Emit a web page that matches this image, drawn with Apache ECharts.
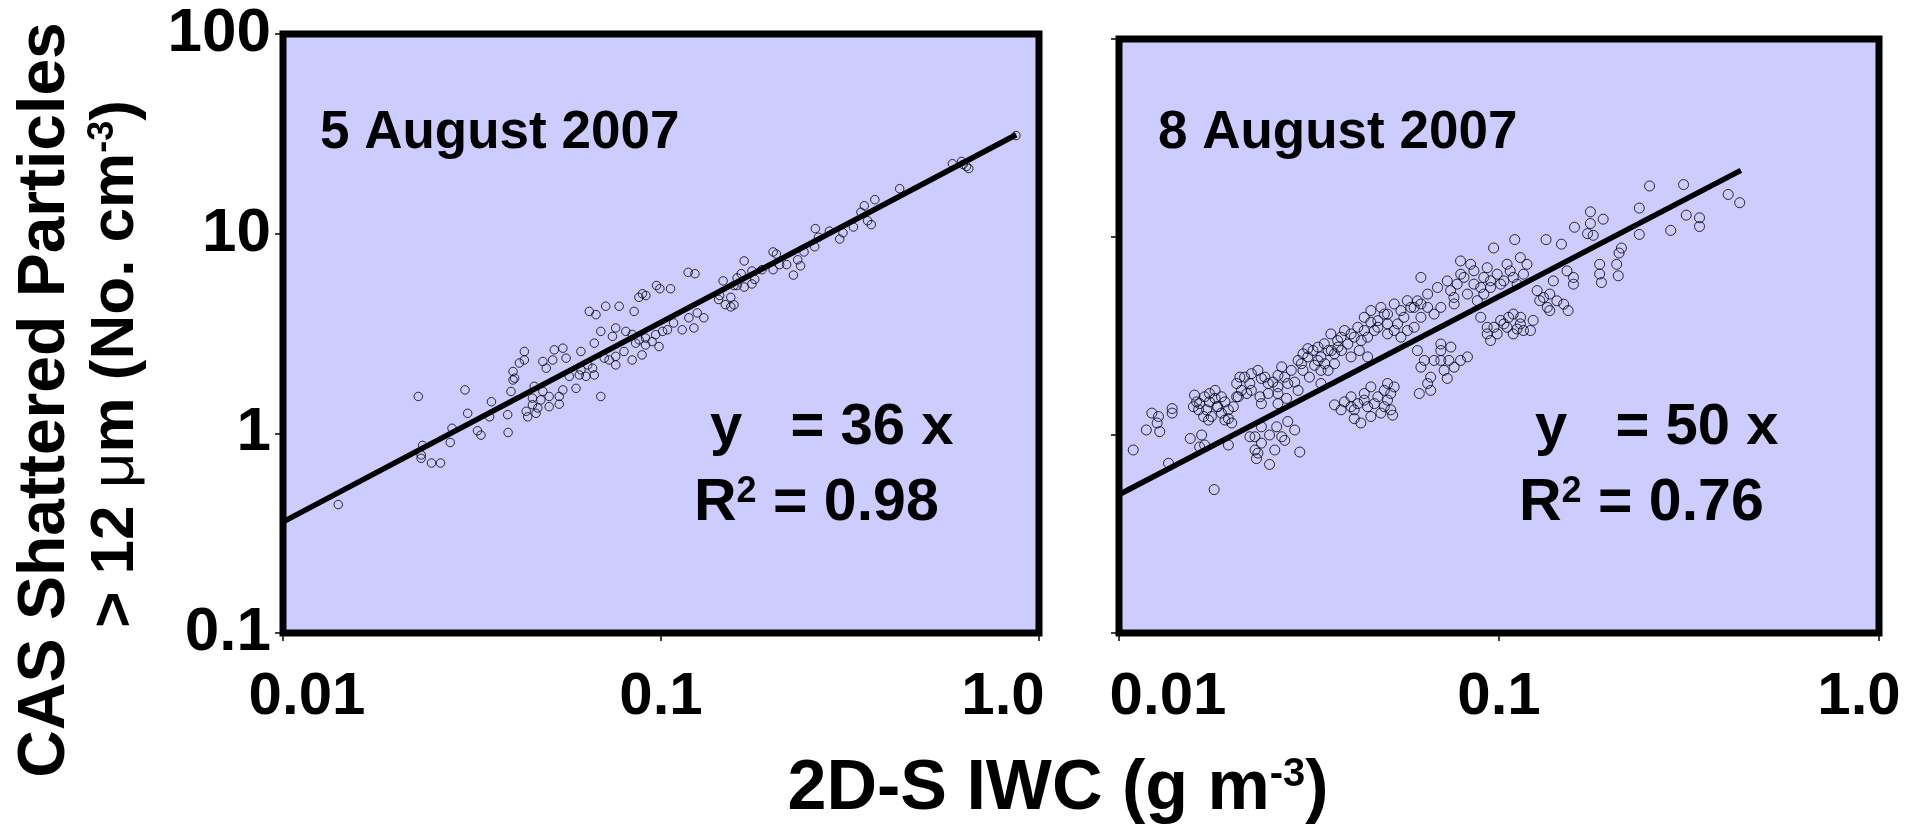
<!DOCTYPE html>
<html><head><meta charset="utf-8">
<script src="https://cdn.jsdelivr.net/npm/echarts@6/dist/echarts.min.js"></script>
<style>html,body{margin:0;padding:0;background:#ffffff;} #c{width:1917px;height:829px;}</style>
</head><body><div id="c"></div>
<script>
// ---------- data ----------
const xTickLabels = ['0.01', '0.1', '1.0'];          // for 0.01, 0.1, 1
const yTickLabels = ['0.1', '1', '10', '100'];       // for 0.1, 1, 10, 100
const panelTitles = ['5 August 2007', '8 August 2007'];
const fitText1 = ['y   = 36 x', '0.98'];
const fitText2 = ['y   = 50 x', '0.76'];

const aug5Points = [
[0.0140,0.44],[0.0228,1.53],[0.0234,0.87],[0.0232,0.78],[0.0232,0.75],[0.0247,0.71],[0.0261,0.71],
[0.0277,0.90],[0.0280,1.06],[0.0303,1.65],[0.0308,1.26],[0.0327,1.03],[0.0334,0.98],[0.0356,1.44],
[0.0352,1.21],[0.0394,1.01],[0.0393,1.24],[0.0401,1.62],[0.0406,2.04],[0.0410,1.89],[0.0406,1.85],
[0.0422,2.25],[0.0435,2.33],[0.0435,2.57],[0.0440,1.29],[0.0444,1.21],[0.0457,1.39],[0.0472,1.34],
[0.0467,1.26],[0.0462,1.72],[0.0487,1.62],[0.0457,1.50],[0.0481,1.47],[0.0506,1.36],[0.0487,2.29],
[0.0497,2.12],[0.0517,2.33],[0.0522,2.62],[0.0550,2.67],[0.0561,2.38],[0.0538,1.53],[0.0550,1.65],
[0.0538,1.40],[0.0506,1.53],[0.0596,1.68],[0.0614,2.57],[0.0693,1.53],[0.0572,1.93],[0.0608,1.96],
[0.0633,1.93],[0.0659,2.12],[0.0666,1.96],[0.0666,2.83],[0.0646,4.08],[0.0673,3.93],[0.0714,4.33],
[0.0775,4.33],[0.0849,4.08],[0.0693,3.24],[0.0744,3.06],[0.0759,3.37],[0.0807,3.24],[0.0729,2.33],
[0.0759,2.20],[0.0839,2.33],[0.0891,2.47],[0.0910,2.77],[0.0947,2.88],[0.0988,2.72],[0.0839,3.13],
[0.0875,2.94],[0.104,3.30],[0.1138,3.30],[0.1222,3.37],[0.1298,3.79],[0.1247,4.01],[0.142,4.68],
[0.148,4.41],[0.0614,2.08],[0.064,2.20],[0.0708,2.38],[0.0759,2.43],[0.0798,2.57],[0.0857,2.83],
[0.091,3.0],[0.0968,3.12],[0.101,3.24],[0.108,3.57],[0.1185,3.79],
[0.869,31.0],[0.59,22.4],[0.624,23.0],[0.643,21.7],[0.652,21.2],[0.63,22.2],[0.428,16.8],
[0.368,14.8],[0.345,13.8],[0.338,12.8],[0.36,11.1],[0.323,10.8],[0.352,11.6],[0.303,10.1],
[0.279,10.3],[0.261,9.6],[0.256,10.6],[0.297,9.4],[0.255,8.6],[0.239,8.1],[0.230,7.4],[0.234,6.9],
[0.224,6.2],[0.215,7.0],[0.206,7.0],[0.198,6.6],[0.198,8.1],[0.202,7.9],[0.166,7.3],[0.174,6.5],
[0.177,5.9],[0.185,6.6],[0.174,5.6],[0.166,5.4],[0.159,5.5],[0.146,5.8],[0.156,5.5],[0.159,6.0],
[0.153,4.8],[0.143,4.9],[0.163,6.3],[0.156,4.4],[0.153,4.3],[0.118,6.4],[0.123,6.3],[0.0973,5.5],
[0.0993,5.3],[0.106,5.3],[0.0893,5.0],[0.0874,4.8],[0.0912,4.9]
];
const aug5Fit = [[0.01,0.36],[0.87,31.3]];

const aug8Points = [
[0.0109,0.84],[0.0118,1.06],[0.0122,1.29],[0.0127,1.24],[0.0128,1.04],[0.0126,1.15],[0.0138,1.29],
[0.0138,1.36],[0.0135,0.72],[0.0154,0.96],[0.0165,1.0],[0.0163,0.87],[0.0168,0.89],[0.0178,0.53],
[0.0158,1.59],[0.0163,1.44],[0.0168,1.56],[0.0173,1.62],[0.0179,1.53],[0.0182,1.39],[0.0186,1.29],
[0.017,1.34],[0.0175,1.24],[0.0162,1.34],[0.019,1.47],[0.0194,1.34],[0.0179,1.68],[0.0186,1.56],
[0.0172,1.19],[0.0194,1.21],[0.0198,1.15],[0.0194,0.89],[0.0228,0.98],[0.0228,0.84],[0.023,0.76],
[0.0249,0.71],[0.0232,0.81],[0.0249,1.0],[0.0268,0.98],[0.0278,1.17],[0.026,1.10],[0.0237,1.10],
[0.0299,0.82],[0.0204,1.82],[0.0208,1.96],[0.0223,2.04],[0.0237,1.93],[0.0247,1.82],[0.0262,2.0],
[0.0268,2.21],[0.0278,1.82],[0.029,1.85],[0.0223,1.68],[0.0235,1.56],[0.0262,1.62],[0.0247,1.62],
[0.021,1.68],[0.0296,2.38],[0.0305,2.57],[0.0314,2.48],[0.0327,2.25],[0.034,2.48],[0.0324,2.67],
[0.0305,2.12],[0.034,2.12],[0.0355,2.67],[0.0348,2.29],[0.0317,1.96],[0.034,1.82],[0.0361,3.24],
[0.0376,3.0],[0.0385,2.67],[0.04,2.88],[0.0416,3.12],[0.0429,2.67],[0.0408,2.48],[0.0451,2.48],
[0.0442,3.37],[0.0369,2.57],[0.0392,3.37],[0.0369,1.42],[0.0392,1.47],[0.0408,1.56],[0.0425,1.44],
[0.0442,1.62],[0.046,1.75],[0.048,1.56],[0.0499,1.68],[0.0509,1.5],[0.0519,1.34],[0.0525,1.26],
[0.0489,1.29],[0.0451,1.39],[0.0416,1.21],[0.0433,1.15],[0.0509,1.82],[0.053,1.75],[0.0442,3.93],
[0.046,4.25],[0.048,3.78],[0.0499,4.08],[0.0509,3.64],[0.053,3.37],[0.0562,3.93],[0.0586,4.41],
[0.061,4.76],[0.0623,3.93],[0.047,3.37],[0.0552,3.12],[0.0598,3.5],[0.061,2.67],[0.0636,2.38],
[0.0661,1.96],[0.0703,2.88],[0.0747,2.78],[0.0703,2.38],[0.0717,2.12],[0.0731,1.93],[0.0792,2.38],
[0.0826,2.48],[0.0617,1.62],[0.0649,1.82],[0.0649,5.15],[0.0689,5.56],[0.0731,6.0],[0.0776,5.78],
[0.0761,4.95],[0.0809,6.25],[0.0859,5.78],[0.0912,6.25],[0.0931,7.0],[0.0989,6.49],[0.103,6.0],
[0.107,6.74],[0.1116,5.78],[0.1138,7.87],[0.1185,7.28],[0.0792,7.57],[0.0842,7.28],[0.0912,5.15],
[0.095,5.56],[0.0703,4.41],[0.0623,6.25],[0.126,5.36],[0.131,4.95],[0.136,5.15],[0.142,4.76],
[0.148,4.58],[0.152,4.25],[0.136,4.25],[0.123,3.79],[0.1138,3.64],[0.121,3.37],[0.103,3.64],
[0.095,3.0],[0.0931,3.24],[0.109,4.08],[0.157,5.78],[0.139,6.0],[0.151,6.74],[0.157,6.25],
[0.097,3.5],[0.101,3.79],[0.106,3.93],[0.1116,3.43],[0.116,3.37],[0.184,7.28],[0.186,5.89],
[0.184,6.5],[0.204,7.28],[0.206,6.37],[0.249,18.1],[0.306,18.4],[0.401,16.4],[0.43,14.9],
[0.234,14.0],[0.283,10.8],[0.311,12.9],[0.337,12.5],[0.337,11.3],[0.234,10.3],[0.174,13.4],
[0.188,12.3],[0.158,11.2],[0.171,10.4],[0.207,8.3],[0.21,8.8],[0.177,10.2],[0.174,11.7],
[0.133,9.7],[0.146,9.2],[0.11,9.7],[0.0968,8.8],
[0.0157,1.39],[0.0167,1.24],[0.0181,1.39],[0.019,1.19],[0.020,1.39],[0.0204,1.56],[0.016,1.47],
[0.0173,1.47],[0.0214,1.96],[0.0221,1.82],[0.0232,2.12],[0.0242,1.96],[0.0254,1.85],[0.0262,1.75],
[0.0273,1.96],[0.0284,2.12],[0.0206,1.56],[0.0217,1.62],[0.0237,1.44],[0.0262,1.44],[0.0276,1.53],
[0.0296,1.68],[0.0302,2.29],[0.0314,2.73],[0.0334,2.78],[0.0347,2.89],[0.0362,2.67],[0.0377,2.78],
[0.0384,3.12],[0.0408,3.24],[0.0425,3.50],[0.0434,3.0],[0.0451,3.12],[0.046,3.71],[0.048,3.50],
[0.0369,2.29],[0.0334,2.38],[0.0355,2.12],[0.0489,4.41],[0.0509,4.08],[0.053,4.59],[0.0552,4.25],
[0.0574,4.77],[0.0598,4.41],[0.0623,4.59],[0.0649,4.41],[0.0675,4.08],[0.0509,3.24],[0.0541,3.64],
[0.0574,3.37],[0.0746,5.36],[0.0793,6.49],[0.0826,5.15],[0.0859,6.75],[0.0895,5.56],[0.095,6.01],
[0.101,5.78],[0.105,7.29],[0.109,6.25],[0.116,6.49],[0.0877,4.77],[0.0762,4.59],[0.0384,1.34],
[0.0408,1.39],[0.0442,1.5],[0.047,1.44],[0.0499,1.39],[0.0519,1.62],[0.046,1.24],[0.0416,1.34],
[0.0623,2.2],[0.0675,2.38],[0.0703,2.67],[0.0738,2.38],[0.0762,2.2],[0.0661,1.68],[0.0895,3.93],
[0.0931,3.5],[0.0989,3.24],[0.105,3.5],[0.109,3.24],[0.114,3.93],[0.128,4.77],[0.134,4.41],
[0.0221,0.98],[0.0237,0.91],[0.0257,0.84],[0.0273,0.94],[0.029,1.06]
];
const aug8Fit = [[0.0101,0.505],[0.433,21.7]];

// ---------- chart ----------
const FONT = '"Liberation Sans", Arial, sans-serif';
const near = (v, t) => Math.abs(Math.log10(v) - Math.log10(t)) < 1e-6;

function xFormatter(panel) {
  return function (v) {
    if (near(v, 0.01)) return '{' + (panel === 0 ? 'a' : 'b') + '|' + xTickLabels[0] + '}';
    if (near(v, 0.1)) return '{n|' + xTickLabels[1] + '}';
    if (near(v, 1)) return '{' + (panel === 0 ? 'c' : 'd') + '|' + xTickLabels[2] + '}';
    return '';
  };
}
function yFormatter(v) {
  if (near(v, 0.1)) return yTickLabels[0];
  if (near(v, 1)) return yTickLabels[1];
  if (near(v, 10)) return yTickLabels[2];
  if (near(v, 100)) return yTickLabels[3];
  return '';
}
const lab = {fontSize: 60, fontWeight: 'bold', fontFamily: FONT, color: '#000'};
const xRich = {
  n: Object.assign({}, lab),
  a: Object.assign({padding: [0, 0, 0, 48]}, lab),
  b: Object.assign({padding: [0, 0, 0, 98]}, lab),
  c: Object.assign({padding: [0, 72, 0, 0]}, lab),
  d: Object.assign({padding: [0, 40, 0, 0]}, lab)
};
const axisLineStyle = {show: true, lineStyle: {color: '#000', width: 1.5}};
const tick = {show: true, inside: false, length: 8, lineStyle: {color: '#000', width: 1.5}};

function xAxis(idx) {
  return {type: 'log', logBase: 10, min: 0.01, max: 1, gridIndex: idx,
    axisLine: axisLineStyle, axisTick: tick, splitLine: {show: false}, minorTick: {show: false},
    axisLabel: {show: true, margin: 34, formatter: xFormatter(idx), rich: xRich, fontSize: 60, fontWeight: 'bold', fontFamily: FONT, color: '#000'}};
}
function yAxis(idx, showLabel) {
  return {type: 'log', logBase: 10, min: 0.1, max: 100, gridIndex: idx,
    axisLine: axisLineStyle, axisTick: tick, splitLine: {show: false},
    axisLabel: {show: showLabel, margin: 12, formatter: yFormatter, fontSize: 62, fontWeight: 'bold', fontFamily: FONT, color: '#000'}};
}
const scatterStyle = {color: 'rgba(0,0,0,0)', borderColor: '#000', borderWidth: 1};

const supRich = {
  sup: {fontSize: 36, fontWeight: 'bold', fontFamily: FONT, lineHeight: 30, verticalAlign: 'top', fill: '#000'}
};
const supRichBig = {
  sup: {fontSize: 40, fontWeight: 'bold', fontFamily: FONT, lineHeight: 32, verticalAlign: 'top', fill: '#000'}
};
function annot(x, y, text, size, rich) {
  return {type: 'text', x: x, y: y, z: 100,
    style: {text: text, fontSize: size, fontWeight: 'bold', fontFamily: FONT, fill: '#000',
      align: 'left', verticalAlign: 'middle', rich: rich}};
}
const rMain = {m: {fontSize: 59, fontWeight: 'bold', fontFamily: FONT, fill: '#000'}};

const option = {
  animation: false,
  backgroundColor: '#ffffff',
  grid: [
    {left: 283, top: 34, width: 756, height: 599, show: true, backgroundColor: '#ccccff', borderColor: '#000', borderWidth: 7},
    {left: 1119, top: 39, width: 760, height: 594, show: true, backgroundColor: '#ccccff', borderColor: '#000', borderWidth: 7}
  ],
  xAxis: [xAxis(0), xAxis(1)],
  yAxis: [yAxis(0, true), yAxis(1, false)],
  series: [
    {type: 'scatter', xAxisIndex: 0, yAxisIndex: 0, data: aug5Points, symbol: 'circle', symbolSize: 8.5, itemStyle: scatterStyle, z: 2},
    {type: 'line', xAxisIndex: 0, yAxisIndex: 0, data: aug5Fit, showSymbol: false, lineStyle: {color: '#000', width: 5.5}, z: 3},
    {type: 'scatter', xAxisIndex: 1, yAxisIndex: 1, data: aug8Points, symbol: 'circle', symbolSize: 10, itemStyle: scatterStyle, z: 2},
    {type: 'line', xAxisIndex: 1, yAxisIndex: 1, data: aug8Fit, showSymbol: false, lineStyle: {color: '#000', width: 5.5}, z: 3}
  ],
  graphic: [
    annot(320, 133, panelTitles[0], 53),
    annot(1158, 133, panelTitles[1], 53),
    annot(710, 428, fitText1[0], 58),
    annot(694, 504, '{m|R}{sup|2}{m| = ' + fitText1[1] + '}', 59, Object.assign({}, rMain, supRich)),
    annot(1535, 428, fitText2[0], 58),
    annot(1519, 504, '{m|R}{sup|2}{m| = ' + fitText2[1] + '}', 59, Object.assign({}, rMain, supRich)),
    {type: 'text', x: 1058, y: 790, z: 100,
      style: {text: '{m|2D-S IWC (g m}{sup|-3}{m|)}', align: 'center', verticalAlign: 'middle',
        rich: Object.assign({m: {fontSize: 70, fontWeight: 'bold', fontFamily: FONT, fill: '#000'}}, supRichBig)}},
    {type: 'text', x: 46, y: 400, rotation: Math.PI / 2, z: 100,
      style: {text: 'CAS Shattered Particles', align: 'center', verticalAlign: 'middle',
        fontSize: 66, fontWeight: 'bold', fontFamily: FONT, fill: '#000'}},
    {type: 'text', x: 116, y: 364, rotation: Math.PI / 2, z: 100,
      style: {text: '{m|> 12 }{mu|\u03bc}{m|m (No. cm}{sup|-3}{m|)}', align: 'center', verticalAlign: 'middle',
        rich: Object.assign({m: {fontSize: 62, fontWeight: 'bold', fontFamily: FONT, fill: '#000'},
          mu: {fontSize: 62, fontWeight: 'normal', fontFamily: FONT, fill: '#000'}}, supRich)}}
  ]
};
const chart = echarts.init(document.getElementById('c'), null, {renderer: 'canvas'});
chart.setOption(option);
</script>
</body></html>
